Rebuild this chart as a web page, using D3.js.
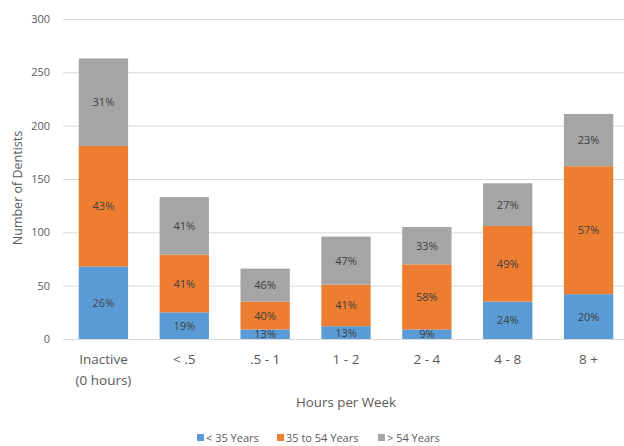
<!DOCTYPE html>
<html>
<head>
<meta charset="utf-8">
<script src="https://cdn.jsdelivr.net/npm/d3@7"></script>
<style>
  body { margin: 0; background: #fff; }
  text { font-family: "Open Sans", sans-serif; }
</style>
</head>
<body>
<svg width="624" height="446"></svg>
<script>
const categories = ['Inactive\n(0 hours)', '< .5', '.5 - 1', '1 - 2', '2 - 4', '4 - 8', '8 +']
const seriesNames = ['< 35 Years', '35 to 54 Years', '> 54 Years']
const under35 = [68, 25, 9, 12, 9, 35, 42]
const from35to54 = [113, 54, 26, 39, 61, 71, 120]
const over54 = [82, 54, 31, 45, 35, 40, 49]
const pctUnder35 = ['26%', '19%', '13%', '13%', '9%', '24%', '20%']
const pct35to54 = ['43%', '41%', '40%', '41%', '58%', '49%', '57%']
const pctOver54 = ['31%', '41%', '46%', '47%', '33%', '27%', '23%']
const yTicks = [0, 50, 100, 150, 200, 250, 300]
const colors = ['#5b9bd5', '#ed7d31', '#a5a5a5']

const svg = d3.select('svg')
const margin = { left: 63, right: -5, top: 19, bottom: 107 }
const width = 624 - margin.left - margin.right
const height = 446 - margin.top - margin.bottom

const data = categories.map((c, i) => ({
  cat: c,
  s0: under35[i], s1: from35to54[i], s2: over54[i],
  p0: pctUnder35[i], p1: pct35to54[i], p2: pctOver54[i]
}))

const stack = d3.stack().keys(['s0', 's1', 's2'])(data)

const x = d3.scaleBand().domain(categories).range([0, width]).paddingInner(0.39).paddingOuter(0.195)
const y = d3.scaleLinear().domain([0, 300]).range([height, 0])

const g = svg.append('g').attr('transform', `translate(${margin.left},${margin.top})`)

// gridlines + y labels
const yAxis = g.append('g').call(d3.axisLeft(y).tickValues(yTicks).tickSize(-width).tickPadding(13))
yAxis.select('.domain').remove()
yAxis.selectAll('line').attr('stroke', '#d9d9d9')
yAxis.selectAll('text').attr('fill', '#595959').style('font-size', '11px').style('font-family', '"Open Sans", sans-serif')

// bars
stack.forEach((layer, si) => {
  g.append('g').selectAll('rect').data(layer).enter().append('rect')
    .attr('x', d => x(d.data.cat))
    .attr('y', d => y(d[1]))
    .attr('width', x.bandwidth())
    .attr('height', d => y(d[0]) - y(d[1]))
    .attr('fill', colors[si])

  g.append('g').selectAll('text').data(layer).enter().append('text')
    .attr('x', d => x(d.data.cat) + x.bandwidth() / 2)
    .attr('y', d => (y(d[0]) + y(d[1])) / 2 + 4)
    .attr('text-anchor', 'middle')
    .attr('fill', '#404040')
    .style('font-size', '11px')
    .text(d => d.data['p' + si])
})

// x labels
const xAxis = g.append('g').attr('transform', `translate(0,${height})`)
  .call(d3.axisBottom(x).tickSize(0).tickPadding(12).tickFormat(''))
xAxis.select('.domain').attr('stroke', '#d9d9d9')
xAxis.selectAll('.tick').each(function (d) {
  const lines = d.split('\n')
  const t = d3.select(this).append('text')
    .attr('text-anchor', 'middle')
    .attr('fill', '#595959')
    .style('font-size', '13.5px')
    .style('font-family', '"Open Sans", sans-serif')
  lines.forEach((l, i) => t.append('tspan').attr('x', 0).attr('y', 25 + i * 21).text(l))
})

// axis titles
svg.append('text')
  .attr('transform', 'translate(22,188) rotate(-90)')
  .attr('text-anchor', 'middle')
  .attr('fill', '#595959')
  .style('font-size', '12.5px')
  .text('Number of Dentists')

svg.append('text')
  .attr('x', 346).attr('y', 407)
  .attr('text-anchor', 'middle')
  .attr('fill', '#595959')
  .style('font-size', '13.3px')
  .text('Hours per Week')

// legend
const legendX = [197, 277, 378]
const legend = svg.append('g')
seriesNames.forEach((n, i) => {
  legend.append('rect').attr('x', legendX[i]).attr('y', 434).attr('width', 7).attr('height', 7).attr('fill', colors[i])
  legend.append('text').attr('x', legendX[i] + 9).attr('y', 441.5)
    .attr('fill', '#595959').style('font-size', '11px').text(n)
})
</script>
</body>
</html>
